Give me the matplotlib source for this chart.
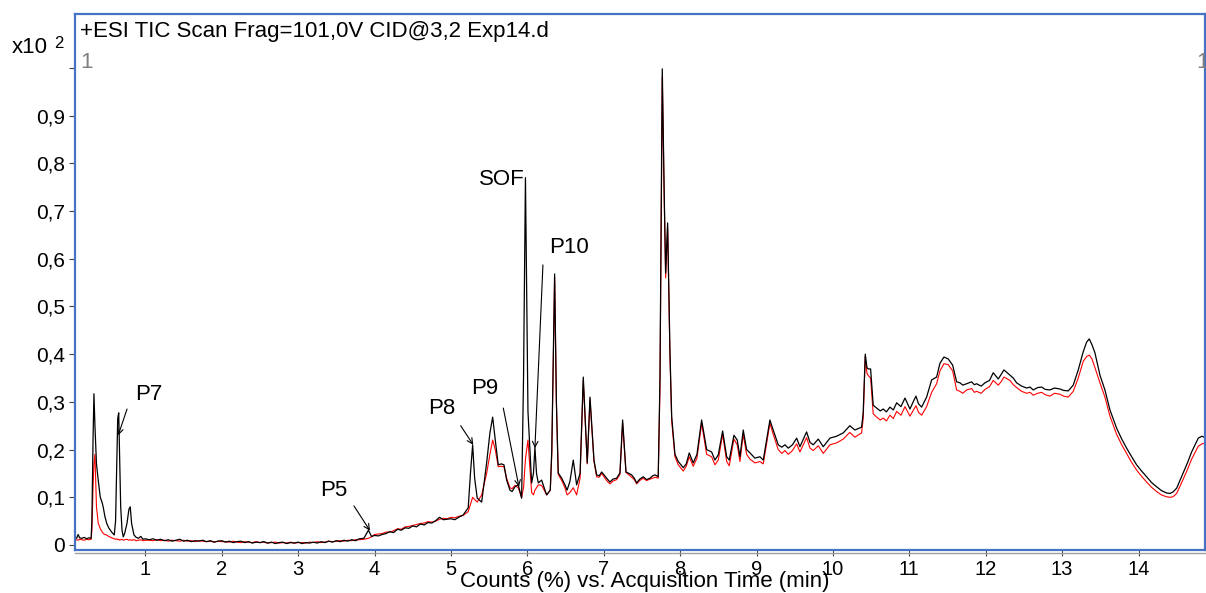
import numpy as np
import matplotlib.pyplot as plt

plt.rcParams['font.family'] = ['Liberation Sans', 'DejaVu Sans']

# TIC traces (x10^2 counts %), split by time window
t_early = [0.08, 0.10, 0.12, 0.14, 0.17, 0.20, 0.23, 0.26, 0.29, 0.30, 0.315, 0.327, 0.34, 0.36,
           0.383, 0.41, 0.436, 0.45, 0.47, 0.493, 0.52, 0.559, 0.593, 0.61, 0.624, 0.638, 0.651,
           0.664, 0.677, 0.695, 0.711, 0.73, 0.759, 0.785, 0.802, 0.82, 0.851, 0.88, 0.91, 0.94,
           0.97, 1.0]
black_early = [0.016, 0.014, 0.022, 0.015, 0.014, 0.016, 0.013, 0.015, 0.014, 0.05, 0.22, 0.317,
               0.25, 0.17, 0.136, 0.1, 0.088, 0.078, 0.06, 0.046, 0.036, 0.027, 0.021, 0.05, 0.16,
               0.265, 0.277, 0.18, 0.08, 0.03, 0.017, 0.025, 0.045, 0.075, 0.08, 0.045, 0.021,
               0.016, 0.014, 0.018, 0.012, 0.013]
red_early = [0.010, 0.011, 0.010, 0.012, 0.011, 0.010, 0.012, 0.011, 0.012, 0.03, 0.12, 0.17,
             0.19, 0.08, 0.046, 0.034, 0.027, 0.024, 0.022, 0.021, 0.018, 0.015, 0.013, 0.012,
             0.013, 0.011, 0.012, 0.010, 0.011, 0.012, 0.010, 0.011, 0.012, 0.010, 0.011, 0.010,
             0.011, 0.009, 0.010, 0.011, 0.009, 0.010]

t_base = [1.05, 1.10, 1.15, 1.20, 1.25, 1.30, 1.35, 1.40, 1.45, 1.50,
          1.55, 1.60, 1.65, 1.70, 1.75, 1.80, 1.85, 1.90, 1.95, 2.00,
          2.05, 2.10, 2.15, 2.20, 2.25, 2.30, 2.35, 2.40, 2.45, 2.50,
          2.55, 2.60, 2.65, 2.70, 2.75, 2.80, 2.85, 2.90, 2.95, 3.00,
          3.05, 3.10, 3.15, 3.20, 3.25, 3.30, 3.35, 3.40, 3.45, 3.50,
          3.55, 3.60, 3.65, 3.70, 3.75, 3.80, 3.86, 3.92, 3.96,
          4.00, 4.05, 4.10, 4.15, 4.20, 4.25, 4.30, 4.35, 4.40, 4.45, 4.50, 4.55, 4.60, 4.65,
          4.70, 4.75, 4.80, 4.85, 4.90, 4.95, 5.00, 5.05, 5.10, 5.16]
black_base = [0.011, 0.013, 0.010, 0.012, 0.009, 0.011, 0.008, 0.010, 0.012, 0.008,
              0.010, 0.007, 0.009, 0.008, 0.010, 0.007, 0.009, 0.006, 0.008, 0.009,
              0.006, 0.008, 0.005, 0.007, 0.008, 0.005, 0.007, 0.004, 0.006, 0.005,
              0.007, 0.004, 0.006, 0.003, 0.005, 0.006, 0.003, 0.005, 0.004, 0.006,
              0.003, 0.005, 0.004, 0.006, 0.004, 0.007, 0.005, 0.008, 0.006, 0.009,
              0.007, 0.010, 0.008, 0.011, 0.009, 0.013, 0.014, 0.031, 0.018,
              0.020, 0.019, 0.022, 0.024, 0.028, 0.026, 0.033, 0.031, 0.036, 0.035, 0.040, 0.038,
              0.044, 0.042, 0.047, 0.046, 0.051, 0.058, 0.053, 0.054, 0.055, 0.053, 0.058, 0.063]
red_base = [0.010, 0.009, 0.011, 0.009, 0.010, 0.008, 0.010, 0.009, 0.008, 0.010,
            0.008, 0.009, 0.007, 0.009, 0.008, 0.007, 0.008, 0.006, 0.008, 0.007,
            0.007, 0.006, 0.008, 0.006, 0.005, 0.007, 0.006, 0.005, 0.007, 0.005,
            0.006, 0.004, 0.005, 0.006, 0.004, 0.005, 0.004, 0.006, 0.004, 0.005,
            0.005, 0.004, 0.006, 0.005, 0.007, 0.005, 0.006, 0.008, 0.007, 0.008,
            0.009, 0.008, 0.010, 0.009, 0.011, 0.011, 0.012, 0.014, 0.017,
            0.022, 0.023, 0.024, 0.027, 0.027, 0.030, 0.034, 0.033, 0.038, 0.039, 0.041, 0.043,
            0.045, 0.046, 0.049, 0.048, 0.050, 0.054, 0.056, 0.055, 0.058, 0.057, 0.060, 0.062]

t_mid = [5.226, 5.255, 5.284, 5.31, 5.344, 5.402, 5.467, 5.51, 5.546, 5.58, 5.619, 5.66, 5.694,
         5.729, 5.772, 5.80, 5.838, 5.881, 5.925, 5.95, 5.975, 6.008, 6.056, 6.08, 6.099, 6.12,
         6.143, 6.187, 6.22, 6.253, 6.30, 6.32, 6.357, 6.38, 6.404]
black_mid = [0.078, 0.15, 0.21, 0.14, 0.098, 0.09, 0.172, 0.235, 0.268, 0.22, 0.168, 0.17, 0.168,
             0.136, 0.115, 0.112, 0.122, 0.126, 0.098, 0.35, 0.77, 0.28, 0.13, 0.15, 0.205, 0.15,
             0.13, 0.136, 0.12, 0.105, 0.115, 0.2, 0.568, 0.3, 0.151]
red_mid = [0.07, 0.085, 0.10, 0.095, 0.09, 0.105, 0.15, 0.19, 0.22, 0.2, 0.164, 0.165, 0.164,
           0.14, 0.12, 0.118, 0.125, 0.12, 0.10, 0.12, 0.18, 0.22, 0.11, 0.105, 0.115, 0.12,
           0.126, 0.125, 0.115, 0.105, 0.115, 0.19, 0.56, 0.3, 0.148]

t_main = [6.45, 6.492, 6.52, 6.557, 6.601, 6.645, 6.69, 6.732, 6.784, 6.82, 6.872, 6.907, 6.94,
          6.973, 7.038, 7.081, 7.12, 7.169, 7.212, 7.247, 7.291, 7.33, 7.365, 7.40, 7.431, 7.47,
          7.517, 7.56, 7.605, 7.64, 7.670, 7.713, 7.736, 7.766, 7.79, 7.810, 7.836]
black_main = [0.14, 0.126, 0.115, 0.133, 0.178, 0.126, 0.15, 0.352, 0.172, 0.31, 0.178, 0.147,
              0.145, 0.153, 0.14, 0.132, 0.138, 0.14, 0.151, 0.262, 0.153, 0.15, 0.147, 0.14,
              0.13, 0.138, 0.143, 0.137, 0.14, 0.145, 0.147, 0.143, 0.35, 0.998, 0.75, 0.57, 0.675]
red_main = [0.135, 0.12, 0.105, 0.11, 0.12, 0.105, 0.14, 0.345, 0.17, 0.305, 0.175, 0.143, 0.142,
            0.15, 0.135, 0.128, 0.134, 0.137, 0.148, 0.255, 0.152, 0.147, 0.142, 0.137, 0.128,
            0.135, 0.14, 0.135, 0.138, 0.14, 0.142, 0.14, 0.33, 0.98, 0.74, 0.56, 0.665]

t_late = [7.866, 7.889, 7.932, 7.975, 8.0, 8.041, 8.08, 8.119, 8.171, 8.22, 8.281, 8.347, 8.412,
          8.456, 8.499, 8.556, 8.609, 8.643, 8.704, 8.747, 8.783, 8.826, 8.870, 8.914, 8.979,
          9.044, 9.088, 9.175, 9.218, 9.284, 9.33, 9.372, 9.415, 9.47, 9.525, 9.568, 9.655, 9.70,
          9.742, 9.808, 9.873, 9.961]
black_late = [0.41, 0.27, 0.19, 0.175, 0.17, 0.162, 0.17, 0.193, 0.172, 0.19, 0.262, 0.2, 0.195,
              0.178, 0.189, 0.239, 0.185, 0.178, 0.23, 0.22, 0.185, 0.241, 0.2, 0.193, 0.182,
              0.185, 0.178, 0.262, 0.241, 0.21, 0.205, 0.21, 0.203, 0.21, 0.224, 0.206, 0.237,
              0.215, 0.21, 0.222, 0.206, 0.224]
red_late = [0.40, 0.26, 0.185, 0.168, 0.163, 0.155, 0.165, 0.185, 0.165, 0.182, 0.255, 0.19,
            0.185, 0.168, 0.178, 0.232, 0.175, 0.166, 0.222, 0.21, 0.175, 0.232, 0.19, 0.18,
            0.172, 0.175, 0.17, 0.255, 0.232, 0.2, 0.192, 0.198, 0.19, 0.198, 0.212, 0.195,
            0.225, 0.203, 0.198, 0.208, 0.192, 0.21]

t_end = [10.048, 10.135, 10.221, 10.287, 10.375, 10.396, 10.423, 10.445, 10.462, 10.493, 10.527,
         10.572, 10.62, 10.658, 10.70, 10.746, 10.79, 10.834, 10.89, 10.943, 11.008, 11.05,
         11.087, 11.12, 11.161, 11.226, 11.292, 11.357, 11.401, 11.453, 11.509, 11.567, 11.619,
         11.662, 11.70, 11.750, 11.815, 11.85, 11.881, 11.94, 11.990, 12.05, 12.098, 12.164,
         12.20, 12.238, 12.317, 12.36, 12.404, 12.47, 12.535, 12.58, 12.622, 12.68, 12.732,
         12.78, 12.840, 12.90, 12.971, 13.02, 13.080, 13.145, 13.211, 13.276, 13.32, 13.355,
         13.39, 13.429, 13.495, 13.560, 13.626, 13.713, 13.78, 13.844, 13.91, 13.975, 14.04,
         14.106, 14.17, 14.237, 14.30, 14.368, 14.411, 14.45, 14.499, 14.585, 14.64, 14.695,
         14.782, 14.83, 14.857]
black_end = [0.228, 0.235, 0.25, 0.241, 0.247, 0.277, 0.40, 0.372, 0.369, 0.369, 0.293, 0.287,
             0.281, 0.285, 0.279, 0.289, 0.283, 0.298, 0.29, 0.308, 0.285, 0.30, 0.312, 0.296,
             0.289, 0.31, 0.346, 0.352, 0.381, 0.394, 0.39, 0.377, 0.342, 0.34, 0.335, 0.338,
             0.342, 0.336, 0.338, 0.333, 0.34, 0.345, 0.361, 0.348, 0.357, 0.367, 0.356, 0.35,
             0.34, 0.333, 0.329, 0.331, 0.325, 0.33, 0.331, 0.326, 0.325, 0.329, 0.327, 0.324,
             0.323, 0.335, 0.367, 0.405, 0.425, 0.432, 0.42, 0.403, 0.356, 0.325, 0.283, 0.245,
             0.222, 0.203, 0.185, 0.168, 0.155, 0.143, 0.131, 0.122, 0.114, 0.109, 0.108, 0.111,
             0.119, 0.151, 0.172, 0.195, 0.224, 0.228, 0.226]
red_end = [0.214, 0.222, 0.236, 0.226, 0.235, 0.265, 0.395, 0.36, 0.355, 0.35, 0.275, 0.268,
           0.262, 0.266, 0.26, 0.272, 0.265, 0.28, 0.272, 0.29, 0.27, 0.282, 0.292, 0.278, 0.272,
           0.29, 0.32, 0.338, 0.365, 0.38, 0.378, 0.365, 0.325, 0.322, 0.318, 0.325, 0.328, 0.32,
           0.322, 0.318, 0.326, 0.332, 0.345, 0.335, 0.342, 0.352, 0.345, 0.336, 0.33, 0.322,
           0.318, 0.32, 0.314, 0.318, 0.32, 0.315, 0.312, 0.318, 0.316, 0.312, 0.31, 0.322, 0.35,
           0.385, 0.395, 0.398, 0.39, 0.372, 0.34, 0.31, 0.27, 0.232, 0.21, 0.192, 0.173, 0.157,
           0.144, 0.132, 0.121, 0.112, 0.105, 0.101, 0.1, 0.101, 0.108, 0.138, 0.158, 0.18,
           0.207, 0.212, 0.213]

x_ticks = list(range(1, 15))
y_ticks = [0, 0.1, 0.2, 0.3, 0.4, 0.5, 0.6, 0.7, 0.8, 0.9, 1.0]
y_labels = ['0', '0,1', '0,2', '0,3', '0,4', '0,5', '0,6', '0,7', '0,8', '0,9', '']

# peak labels: (text, text pos, arrow start, arrow tip)
peaks = [
    ('P7', (0.86, 0.315), (0.76, 0.285), (0.645, 0.23)),
    ('P5', (3.29, 0.115), (3.73, 0.082), (3.94, 0.03)),
    ('P8', (4.695, 0.287), (5.127, 0.25), (5.292, 0.21)),
    ('P9', (5.262, 0.327), (5.685, 0.287), (5.89, 0.122)),
    ('P10', (6.287, 0.624), (6.204, 0.587), (6.099, 0.203)),
]

time = np.concatenate([t_early, t_base, t_mid, t_main, t_late, t_end])
tic_black = np.concatenate([black_early, black_base, black_mid, black_main, black_late, black_end])
tic_red = np.concatenate([red_early, red_base, red_mid, red_main, red_late, red_end])

fig = plt.figure(figsize=(12.06, 5.93), dpi=100)
ax = fig.add_axes([75 / 1206, 43 / 593, 1130 / 1206, 536 / 593])

ax.plot(time, tic_red, color='#ff0000', lw=0.8)
ax.plot(time, tic_black, color='black', lw=0.9)

ax.set_xlim(0.079, 14.87)
ax.set_ylim(-0.0105, 1.113)
ax.set_xticks(x_ticks)
ax.set_yticks(y_ticks)
ax.set_yticklabels(y_labels)
ax.tick_params(direction='out', length=4, width=0.8, color='#444444', labelsize=15, pad=3)
ax.tick_params(axis='x', labelsize=14.5)

for s in ax.spines.values():
    s.set_color('#4472c4')
    s.set_linewidth(1.6)
# grey axis line just below the frame
ax.plot([0, 1], [-0.006, -0.006], transform=ax.transAxes, color='#a0a0a0', lw=1, clip_on=False)

for name, txy, start, tip in peaks:
    ax.text(txy[0], txy[1], name, fontsize=16, ha='left', va='center')
    ax.annotate('', xy=tip, xytext=start,
                arrowprops=dict(arrowstyle='->', color='black', lw=0.8, shrinkA=0, shrinkB=0))
ax.text(5.968, 0.766, 'SOF', fontsize=16, ha='right', va='center')

ax.text(0.0044, 0.968, '+ESI TIC Scan Frag=101,0V CID@3,2 Exp14.d', transform=ax.transAxes,
        fontsize=16, ha='left', va='center')
ax.text(0.0044, 0.9095, '1', transform=ax.transAxes, fontsize=16, color='#808080',
        ha='left', va='center')
ax.text(0.9925, 0.9095, '1', transform=ax.transAxes, fontsize=16, color='#808080',
        ha='left', va='center', clip_on=False)

fig.text(12 / 1206, 1 - 47.5 / 593, 'x10', fontsize=16, ha='left', va='center')
fig.text(54 / 1206, 1 - 43 / 593, '2', fontsize=12, ha='left', va='center')
fig.text(645 / 1206, 1 - 582 / 593, 'Counts (%) vs. Acquisition Time (min)', fontsize=16,
         ha='center', va='center')

fig.savefig('out.png', dpi=100)
